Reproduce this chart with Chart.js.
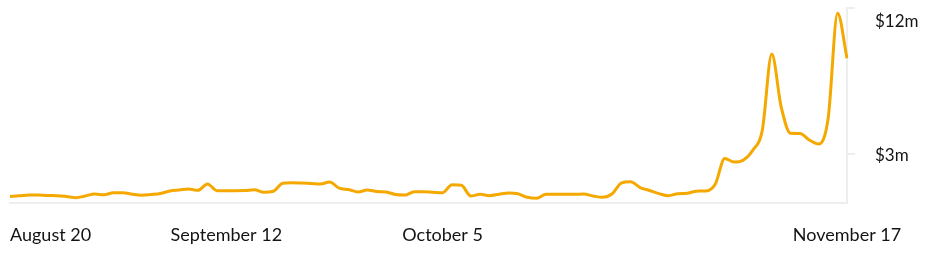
<!DOCTYPE html>
<html>
<head>
<meta charset="utf-8">
<script src="https://cdn.jsdelivr.net/npm/chart.js@4"></script>
<style>
    html, body { margin: 0; padding: 0; background: #fff; }
    canvas { display: block; }
</style>
</head>
<body>
<canvas id="volumeChart" width="940" height="259"></canvas>
<script>
// Daily values (millions of dollars), August 20 -> November 17
const values = [
    0.40, 0.44, 0.49, 0.50, 0.46, 0.45, 0.40, 0.33, 0.43, 0.55,
    0.51, 0.63, 0.63, 0.54, 0.48, 0.52, 0.58, 0.74, 0.80, 0.86,
    0.78, 1.17, 0.76, 0.76, 0.76, 0.77, 0.81, 0.66, 0.72, 1.21,
    1.25, 1.23, 1.20, 1.17, 1.29, 0.91, 0.83, 0.68, 0.80, 0.71,
    0.68, 0.52, 0.49, 0.70, 0.70, 0.66, 0.63, 1.13, 1.09, 0.43,
    0.54, 0.45, 0.54, 0.62, 0.57, 0.35, 0.29, 0.54, 0.54, 0.54,
    0.54, 0.55, 0.43, 0.35, 0.55, 1.23, 1.31, 0.95, 0.77, 0.58,
    0.45, 0.57, 0.60, 0.73, 0.74, 1.17, 2.74, 2.52, 2.65, 3.26,
    4.50, 9.17, 5.91, 4.29, 4.28, 3.88, 3.63, 5.23, 11.68, 8.91
];

// Category labels: one per day starting August 20
const startDate = Date.UTC(2023, 7, 20);
const labels = values.map((v, i) =>
    new Date(startDate + i * 86400000).toLocaleDateString('en-US', { month: 'long', day: 'numeric', timeZone: 'UTC' })
);

const xTickLabels = ['August 20', 'September 12', 'October 5', 'November 17'];
const yTickValues = [3, 12];
const yTickLabels = ['$3m', '$12m'];

const lineColor = 'rgb(245, 168, 0)';
const axisColor = '#eeeeee';
const textColor = '#141414';

// Draws the axis labels (first x label hugs the left edge, top y label kept inside)
const axisLabels = {
    id: 'axisLabels',
    afterDraw(chart) {
        const ctx = chart.ctx;
        const x = chart.scales.x;
        const y = chart.scales.y;
        const area = chart.chartArea;
        ctx.save();
        ctx.fillStyle = textColor;
        ctx.textBaseline = 'middle';

        ctx.font = '18px Lato';
        xTickLabels.forEach((label, i) => {
            const px = x.getPixelForValue(labels.indexOf(label));
            ctx.textAlign = i === 0 ? 'left' : 'center';
            ctx.fillText(label, px, area.bottom + 32);
        });

        ctx.font = '17px Lato';
        ctx.textAlign = 'left';
        yTickValues.forEach((v, i) => {
            const py = Math.max(y.getPixelForValue(v) + 1, area.top + 14);
            ctx.fillText(yTickLabels[i], area.right + 28, py);
        });
        ctx.restore();
    }
};

new Chart(document.getElementById('volumeChart'), {
    type: 'line',
    data: {
        labels: labels,
        datasets: [{
            data: values,
            borderColor: lineColor,
            borderWidth: 3,
            pointRadius: 0,
            cubicInterpolationMode: 'monotone',
            fill: false
        }]
    },
    options: {
        responsive: false,
        animation: false,
        layout: { padding: { left: 10, top: 8, right: 0, bottom: 0 } },
        plugins: {
            legend: { display: false },
            tooltip: { enabled: false }
        },
        scales: {
            x: {
                grid: { display: false },
                border: { display: true, color: axisColor, width: 2 },
                ticks: { display: false },
                afterFit: scale => { scale.height = 56; }
            },
            y: {
                position: 'right',
                min: 0,
                max: 12,
                afterBuildTicks: scale => {
                    scale.ticks = yTickValues.map(v => ({ value: v }));
                },
                grid: {
                    drawOnChartArea: false,
                    drawTicks: true,
                    tickLength: 8,
                    color: axisColor,
                    lineWidth: 2
                },
                border: { display: true, color: axisColor, width: 2 },
                ticks: { display: false },
                afterFit: scale => { scale.width = 93; }
            }
        }
    },
    plugins: [axisLabels]
});
</script>
</body>
</html>
